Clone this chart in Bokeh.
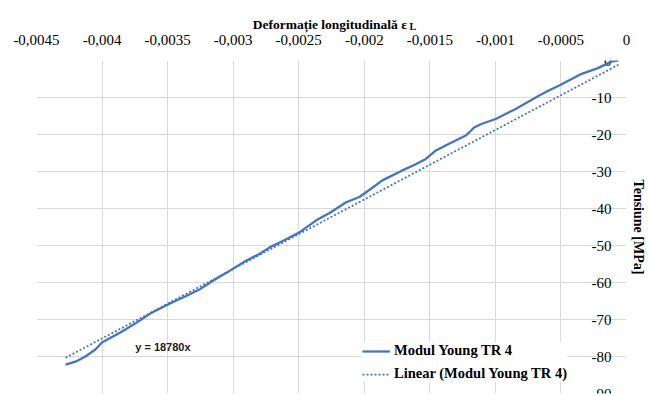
from bokeh.core.properties import value
from bokeh.embed import file_html
from bokeh.models import (FixedTicker, Grid, Label, Legend, LegendItem,
                          LinearAxis, Range1d)
from bokeh.plotting import figure
from bokeh.resources import INLINE

# Measured longitudinal strain (compression, negative) and the matching stress in MPa
strain = [-0.004279, -0.004203, -0.004127, -0.004051, -0.004001, -0.003861,
          -0.003747, -0.003633, -0.003482, -0.003367, -0.003253, -0.003139,
          -0.003025, -0.002911, -0.002797, -0.002721, -0.002607, -0.002493,
          -0.002366, -0.002265, -0.002138, -0.002037, -0.001946, -0.001862,
          -0.001710, -0.001611, -0.001530, -0.001454, -0.001353, -0.001226,
          -0.001193, -0.001163, -0.001102, -0.000998, -0.000846, -0.000669,
          -0.000593, -0.000517, -0.000342, -0.000228, -0.000114, -0.000061]
stress = [-82.2, -81.4, -80.0, -78.1, -76.2, -73.5,
          -71.1, -68.4, -65.7, -63.8, -61.8, -59.2,
          -56.8, -54.3, -52.2, -50.5, -48.5, -46.4,
          -43.2, -41.2, -38.3, -36.9, -34.6, -32.4,
          -29.7, -28.1, -26.6, -24.3, -22.5, -20.3,
          -19.2, -18.1, -17.1, -15.8, -13.1, -9.5,
          -8.1, -6.8, -3.6, -2.2, -0.3, 0.0]

# Linear trend through the origin (Young's modulus, MPa)
slope = 18780

series_name = "Modul Young TR 4"
trend_name = "Linear (Modul Young TR 4)"
x_title = "Deformație longitudinală  ε"
x_title_sub = "L"
y_title = "Tensiune [MPa]"

x_ticks = [-0.0045, -0.004, -0.0035, -0.003, -0.0025, -0.002,
           -0.0015, -0.001, -0.0005, 0.0]
x_tick_labels = ["-0,0045", "-0,004", "-0,0035", "-0,003", "-0,0025", "-0,002",
                 "-0,0015", "-0,001", "-0,0005", "0"]
y_ticks = [0, -10, -20, -30, -40, -50, -60, -70, -80, -90]
y_tick_labels = ["0", "-10", "-20", "-30", "-40", "-50", "-60", "-70", "-80", "-90"]

BLUE = "#4472C4"
GRID = "#d9d9d9"
SERIF = "Liberation Serif, Times New Roman, serif"

p = figure(width=648, height=396,
           x_range=Range1d(-0.0045, 0.0), y_range=Range1d(-90, 0),
           x_axis_location="above", y_axis_location=None,
           output_backend="svg", toolbar_location=None,
           min_border_left=36, min_border_right=20,
           min_border_top=60, min_border_bottom=3)
p.outline_line_color = None
p.background_fill_color = "white"
p.border_fill_color = "white"

# Strain axis along the top
xa = p.xaxis[0]
xa.ticker = FixedTicker(ticks=x_ticks)
xa.major_label_overrides = dict(zip(x_ticks, x_tick_labels))
xa.axis_line_color = None
xa.major_tick_line_color = None
xa.minor_tick_line_color = None
xa.major_label_standoff = 10
xa.major_label_text_font = SERIF
xa.major_label_text_font_size = "15px"
xa.major_label_text_color = "black"

# Strain axis title; the epsilon subscript is carried by a single tick label
# placed right after the title text, and the title is pulled down beside it
sub_pos = -0.00163
xt = LinearAxis(ticker=FixedTicker(ticks=[sub_pos]),
                major_label_overrides={sub_pos: x_title_sub},
                axis_line_color=None, major_tick_line_color=None,
                minor_tick_line_color=None, major_label_standoff=-6,
                major_label_text_font=SERIF, major_label_text_font_style="bold",
                major_label_text_font_size="10px", major_label_text_color="black",
                axis_label=x_title, axis_label_standoff=-14,
                axis_label_text_font=SERIF, axis_label_text_font_style="bold",
                axis_label_text_font_size="13.5px", axis_label_text_color="black")
p.add_layout(xt, "above")

p.xgrid.ticker = FixedTicker(ticks=x_ticks)
p.xgrid.grid_line_color = GRID
p.ygrid.visible = False
p.add_layout(Grid(dimension=1, ticker=FixedTicker(ticks=y_ticks),
                  grid_line_color=GRID))

# Stress axis title on the right; its tick labels sit just left of zero strain
ya = LinearAxis(ticker=FixedTicker(ticks=[]), axis_label=y_title,
                axis_line_color=None, major_tick_line_color=None,
                minor_tick_line_color=None, major_label_standoff=0,
                axis_label_standoff=4, axis_label_text_font=SERIF,
                axis_label_text_font_style="bold",
                axis_label_text_font_size="14px",
                axis_label_text_color="black")
p.add_layout(ya, "right")

p.text(x=0.0, y=y_ticks, text=y_tick_labels, x_offset=-15,
       text_align="right", text_baseline="middle",
       text_font=value(SERIF), text_font_size="15px", text_color="black")

r_data = p.line(strain, stress, line_color=BLUE, line_width=2.25)

fit_x = [min(strain), max(strain)]
fit_y = [slope * v for v in fit_x]
r_fit = p.line(fit_x, fit_y, line_color=BLUE, line_width=1.75, line_dash="2 2")

legend = Legend(items=[LegendItem(label=series_name, renderers=[r_data]),
                       LegendItem(label=trend_name, renderers=[r_fit])],
                location=(326, 11), margin=0, padding=4, spacing=6,
                glyph_width=28, glyph_height=16, label_height=16,
                label_standoff=4, border_line_color=None,
                background_fill_color="white", background_fill_alpha=1.0,
                label_text_font=SERIF, label_text_font_style="bold",
                label_text_font_size="14.5px", label_text_color="black")
p.add_layout(legend)

p.add_layout(Label(x=-0.003747, y=-77.3, text=f"y = {slope}x",
                   text_font="Liberation Sans", text_font_style="bold",
                   text_font_size="11px", text_baseline="middle",
                   text_color="#222222"))

open("out.html", "w").write(file_html(p, INLINE))
